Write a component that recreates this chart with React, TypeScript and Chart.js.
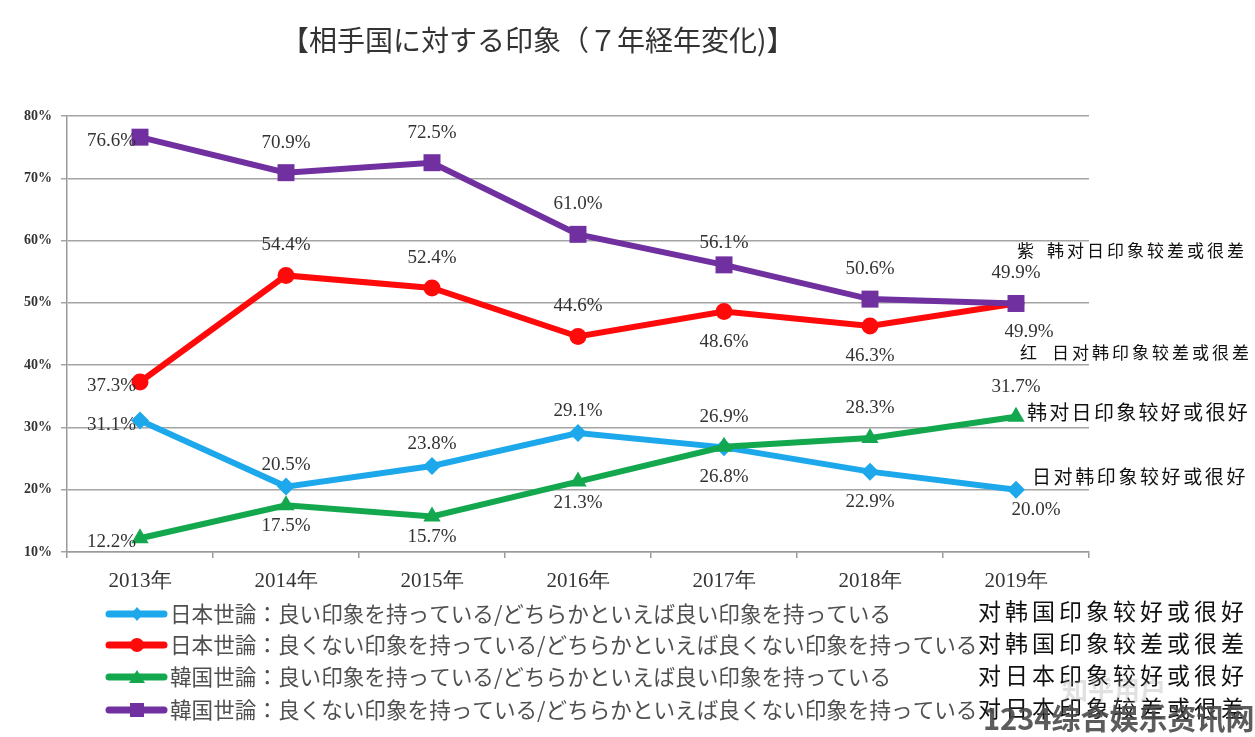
import React, { useEffect, useRef } from 'react';
import { Chart, registerables } from 'chart.js';

Chart.register(...registerables);

// ---------- data ----------
const years = ['2013年', '2014年', '2015年', '2016年', '2017年', '2018年', '2019年'];
const jpGood = [31.1, 20.5, 23.8, 29.1, 26.8, 22.9, 20.0];
const jpBad = [37.3, 54.4, 52.4, 44.6, 48.6, 46.3, 49.9];
const krGood = [12.2, 17.5, 15.7, 21.3, 26.9, 28.3, 31.7];
const krBad = [76.6, 70.9, 72.5, 61.0, 56.1, 50.6, 49.9];
const yMin = 10;
const yMax = 80;
const yStep = 10;

const titleText = '【相手国に対する印象（７年経年変化)】';
const legendLabels = [
  '日本世論：良い印象を持っている/どちらかといえば良い印象を持っている',
  '日本世論：良くない印象を持っている/どちらかといえば良くない印象を持っている',
  '韓国世論：良い印象を持っている/どちらかといえば良い印象を持っている',
  '韓国世論：良くない印象を持っている/どちらかといえば良くない印象を持っている',
];
const cnLegend = ['对韩国印象较好或很好', '对韩国印象较差或很差', '对日本印象较好或很好', '对日本印象较差或很差'];
const sideNotes = [
  { tag: '紫', text: '韩对日印象较差或很差' },
  { tag: '红', text: '日对韩印象较差或很差' },
  { tag: '', text: '韩对日印象较好或很好' },
  { tag: '', text: '日对韩印象较好或很好' },
];
const watermark = '1234综合娱乐资讯网';
const watermark2 = '知乎用户';

// label placement codes per point (style, not data)
const placeJpGood = ['L', 'a', 'a', 'a', 'B', 'B', 'bR'];
const placeJpBad = ['L', 'A', 'A', 'A', 'B', 'B', 'BR'];
const placeKrGood = ['L', 'b', 'b', 'b', 'A', 'A', 'A'];
const placeKrBad = ['L', 'A', 'A', 'A', 'a', 'A', 'A'];

const COLORS = {
  blue: '#1ea8ec',
  red: '#ff0a0a',
  green: '#14a84e',
  purple: '#7030a0',
};

const PLACE: Record<string, { dx: number; dy: number }> = {
  A: { dx: 0, dy: -30 },
  a: { dx: 0, dy: -22 },
  B: { dx: 0, dy: 30 },
  b: { dx: 0, dy: 21 },
  BR: { dx: 13, dy: 29 },
  bR: { dx: 20, dy: 20 },
};

const SERIF = '"Liberation Serif", "DejaVu Serif", serif';
const JP = '"Noto Sans CJK JP", "Noto Sans", sans-serif';
const SC = '"Noto Sans CJK SC", "Noto Sans", sans-serif';

function drawMarker(ctx: CanvasRenderingContext2D, style: string, x: number, y: number, color: string) {
  ctx.save();
  ctx.fillStyle = color;
  ctx.beginPath();
  if (style === 'circle') {
    ctx.arc(x, y, 7, 0, Math.PI * 2);
  } else if (style === 'rectRot') {
    ctx.moveTo(x, y - 7);
    ctx.lineTo(x + 6, y);
    ctx.lineTo(x, y + 7);
    ctx.lineTo(x - 6, y);
    ctx.closePath();
  } else if (style === 'triangle') {
    ctx.moveTo(x, y - 7);
    ctx.lineTo(x + 8, y + 6);
    ctx.lineTo(x - 8, y + 6);
    ctx.closePath();
  } else {
    ctx.rect(x - 7, y - 7, 14, 14);
  }
  ctx.fill();
  ctx.restore();
}

export default function App() {
  const ref = useRef<HTMLCanvasElement | null>(null);

  useEffect(() => {
    document.body.style.margin = '0';
    document.body.style.background = '#ffffff';
    const canvas = ref.current;
    if (!canvas) return;

    const series = [
      { data: jpGood, color: COLORS.blue, style: 'rectRot', radius: 9, place: placeJpGood },
      { data: jpBad, color: COLORS.red, style: 'circle', radius: 8.5, place: placeJpBad },
      { data: krGood, color: COLORS.green, style: 'triangle', radius: 10, place: placeKrGood },
      { data: krBad, color: COLORS.purple, style: 'rect', radius: 12, place: placeKrBad },
    ];

    const decor = {
      id: 'decor',
      afterDraw(chart: any) {
        const ctx: CanvasRenderingContext2D = chart.ctx;
        ctx.save();

        // title
        ctx.fillStyle = '#333333';
        ctx.font = `28px ${JP}`;
        ctx.textAlign = 'left';
        ctx.textBaseline = 'middle';
        ctx.fillText(titleText, 281, 40);

        // data labels
        ctx.font = `19px ${SERIF}`;
        ctx.fillStyle = '#333333';
        series.forEach((s, di) => {
          const meta = chart.getDatasetMeta(di);
          meta.data.forEach((pt: any, i: number) => {
            const code = s.place[i];
            const txt = s.data[i].toFixed(1) + '%';
            if (code === 'L') {
              ctx.textAlign = 'right';
              ctx.fillText(txt, pt.x - 4, pt.y + 4);
            } else {
              const p = PLACE[code];
              ctx.textAlign = 'center';
              ctx.fillText(txt, pt.x + p.dx, pt.y + p.dy);
            }
          });
        });

        // right side notes
        ctx.fillStyle = '#111111';
        ctx.textAlign = 'left';
        const area = chart.chartArea;
        const noteX = area.right - 72;
        const notePos = [
          { x: noteX, y: 251, tx: noteX + 30, size: 17, sp: '3px' },
          { x: noteX + 3, y: 353, tx: noteX + 35, size: 17, sp: '3px' },
          { x: noteX, y: 412, tx: noteX + 10, size: 20, sp: '2.3px' },
          { x: noteX, y: 477, tx: noteX + 15, size: 19, sp: '2.6px' },
        ];
        sideNotes.forEach((n, i) => {
          const p = notePos[i];
          ctx.font = `${p.size}px ${SC}`;
          (ctx as any).letterSpacing = '0px';
          if (n.tag) ctx.fillText(n.tag, p.x, p.y);
          (ctx as any).letterSpacing = p.sp;
          ctx.fillText(n.text, p.tx, p.y);
        });
        (ctx as any).letterSpacing = '0px';

        // legend (Japanese)
        const rows = [614, 645, 677, 710];
        series.forEach((s, i) => {
          const y = rows[i];
          ctx.strokeStyle = s.color;
          ctx.lineWidth = 7;
          ctx.lineCap = 'round';
          ctx.beginPath();
          ctx.moveTo(109, y);
          ctx.lineTo(164, y);
          ctx.stroke();
          drawMarker(ctx, s.style, 137, y, s.color);
          ctx.fillStyle = '#505050';
          ctx.font = `21.6px ${JP}`;
          ctx.textAlign = 'left';
          ctx.fillText(legendLabels[i], 170, y);
        });

        // Chinese legend
        ctx.fillStyle = '#111111';
        ctx.font = `23px ${SC}`;
        (ctx as any).letterSpacing = '4px';
        const cnRows = [611, 643, 675, 708];
        cnLegend.forEach((t, i) => {
          ctx.fillText(t, 978, cnRows[i]);
        });
        (ctx as any).letterSpacing = '0px';

        // watermark
        ctx.globalAlpha = 0.25;
        ctx.fillStyle = '#888888';
        ctx.font = `bold 26px ${SC}`;
        ctx.fillText(watermark2, 1062, 690);
        ctx.globalAlpha = 0.9;
        ctx.fillStyle = '#4a4a4a';
        ctx.font = `bold 29px ${SC}`;
        ctx.fillText(watermark, 983, 719);
        ctx.restore();
      },
    };

    const chart = new Chart(canvas, {
      type: 'line',
      data: {
        labels: years,
        datasets: series.map((s, i) => ({
          label: legendLabels[i],
          data: s.data,
          order: series.length - i,
          borderColor: s.color,
          backgroundColor: s.color,
          borderWidth: 6,
          pointStyle: s.style as any,
          pointRadius: s.radius,
          pointBackgroundColor: s.color,
          pointBorderColor: s.color,
          pointBorderWidth: 0,
          tension: 0,
          fill: false,
        })),
      },
      options: {
        responsive: false,
        animation: false,
        layout: { padding: { left: 0, top: 116, right: 166, bottom: 145 } },
        plugins: {
          legend: { display: false },
          title: { display: false },
          tooltip: { enabled: false },
        },
        scales: {
          x: {
            offset: true,
            grid: {
              offset: true,
              drawOnChartArea: false,
              drawTicks: true,
              tickLength: 6,
              color: '#9a9a9a',
              lineWidth: 1.5,
            },
            border: { display: true, color: '#9a9a9a', width: 1.5 },
            ticks: {
              color: '#333333',
              font: { family: SERIF, size: 21 },
              padding: 11,
              maxRotation: 0,
            },
            afterFit: (s: any) => {
              s.height = 40;
            },
          },
          y: {
            min: yMin,
            max: yMax,
            ticks: {
              stepSize: yStep,
              color: '#333333',
              font: { family: SERIF, size: 14, weight: 'bold' },
              padding: 9,
              callback: (v: any) => v + '%',
            },
            grid: {
              color: '#a4a4a4',
              lineWidth: 1.5,
              tickLength: 6,
              drawTicks: true,
            },
            border: { display: true, color: '#9a9a9a', width: 1.5 },
            afterFit: (s: any) => {
              s.width = 67;
            },
          },
        },
      },
      plugins: [decor],
    });

    return () => {
      chart.destroy();
    };
  }, []);

  return (
    <div style={{ width: 1255, height: 737, background: '#ffffff' }}>
      <canvas ref={ref} width={1255} height={737} style={{ display: 'block' }} />
    </div>
  );
}
